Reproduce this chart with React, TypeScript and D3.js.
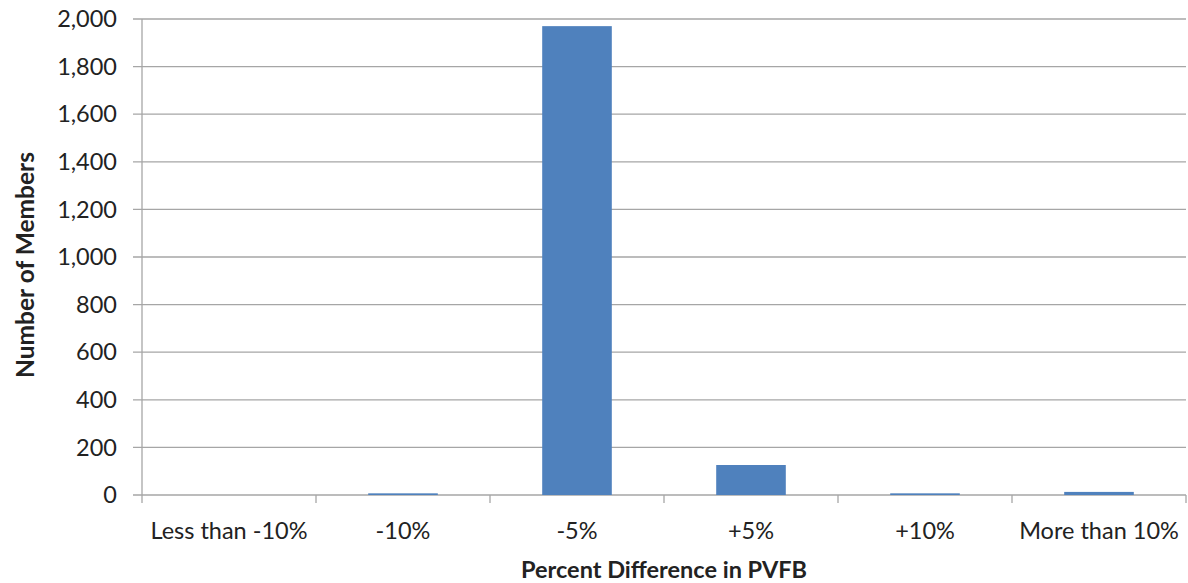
import React from "react";
import * as d3 from "d3";

const categories = ["Less than -10%", "-10%", "-5%", "+5%", "+10%", "More than 10%"];
const members = [0, 7, 1970, 126, 7, 13];
const yTicks = [0, 200, 400, 600, 800, 1000, 1200, 1400, 1600, 1800, 2000];

const W = 1188, H = 583;
const left = 142, right = 1186, top = 19, bottom = 495;

export default function App() {
  const x = d3.scaleBand<string>().domain(categories).range([left, right]).paddingInner(0.6).paddingOuter(0.3);
  const xb = d3.scaleBand<string>().domain(categories).range([left, right]);
  const y = d3.scaleLinear().domain([0, 2000]).range([bottom, top]);
  const fmt = d3.format(",");
  const font = "Lato, 'Open Sans', sans-serif";
  return (
    <svg width={W} height={H} style={{ position: "absolute", left: 0, top: 0, background: "#fff" }}>
      {yTicks.map((t) => (
        <g key={t}>
          <line x1={133} x2={right} y1={y(t)} y2={y(t)} stroke="#a6a6a6" strokeWidth={1.3} />
          <text x={117} y={y(t)} dy="0.35em" textAnchor="end" fontSize={23.5} fontFamily={font} fill="#222">
            {fmt(t)}
          </text>
        </g>
      ))}
      <line x1={left} x2={left} y1={top} y2={bottom + 8} stroke="#a6a6a6" strokeWidth={1.3} />
      {categories.map((c) => (
        <line key={c} x1={xb(c)! + xb.bandwidth()} x2={xb(c)! + xb.bandwidth()} y1={bottom} y2={bottom + 8} stroke="#a6a6a6" strokeWidth={1.3} />
      ))}
      {categories.map((c, i) => (
        <rect key={c} x={x(c)} width={x.bandwidth()} y={y(members[i])} height={bottom - y(members[i])} fill="#4f81bd" />
      ))}
      {categories.map((c) => (
        <text key={c} x={xb(c)! + xb.bandwidth() / 2} y={531} dy="0.35em" textAnchor="middle" fontSize={23.5} fontFamily={font} fill="#222">
          {c}
        </text>
      ))}
      <text x={(left + right) / 2} y={570} dy="0.35em" textAnchor="middle" fontSize={23.5} fontWeight="bold" fontFamily={font} fill="#222">
        Percent Difference in PVFB
      </text>
      <text transform={`translate(25,${265}) rotate(-90)`} dy="0.35em" textAnchor="middle" fontSize={24.5} fontWeight="bold" fontFamily={font} fill="#222">
        Number of Members
      </text>
    </svg>
  );
}
